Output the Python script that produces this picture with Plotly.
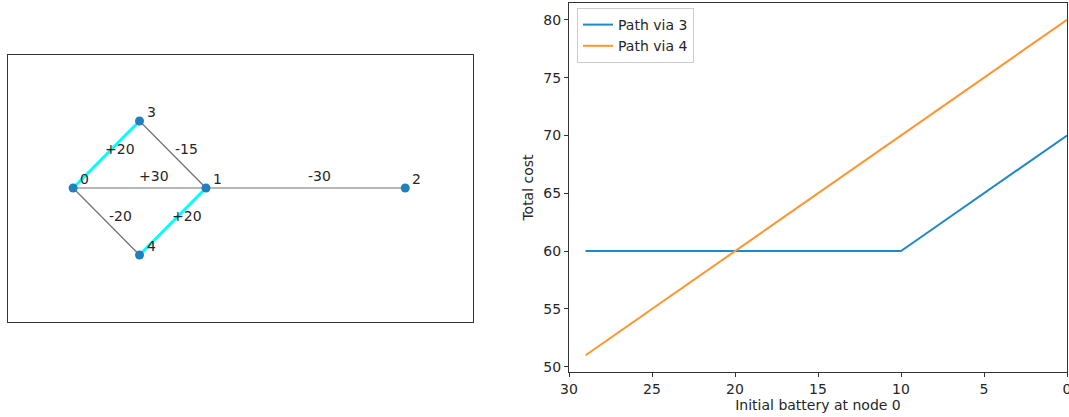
import plotly.graph_objects as go

# ---- network data ----
node_ids = ["0", "1", "2", "3", "4"]
node_x = [0, 2, 5, 1, 1]
node_y = [0, 0, 0, 1, -1]
edges_from = ["0", "3", "0", "0", "4", "1"]
edges_to = ["3", "1", "1", "4", "1", "2"]
edge_labels = ["+20", "-15", "+30", "-20", "+20", "-30"]
highlight_edges = [("0", "3"), ("4", "1")]

# ---- line chart data ----
battery = [29, 28, 27, 26, 25, 24, 23, 22, 21, 20, 19, 18, 17, 16, 15,
           14, 13, 12, 11, 10, 9, 8, 7, 6, 5, 4, 3, 2, 1, 0]
cost_via3 = [60, 60, 60, 60, 60, 60, 60, 60, 60, 60, 60, 60, 60, 60, 60,
             60, 60, 60, 60, 60, 61, 62, 63, 64, 65, 66, 67, 68, 69, 70]
cost_via4 = [51, 52, 53, 54, 55, 56, 57, 58, 59, 60, 61, 62, 63, 64, 65,
             66, 67, 68, 69, 70, 71, 72, 73, 74, 75, 76, 77, 78, 79, 80]
x_ticks = [30, 25, 20, 15, 10, 5, 0]
y_ticks = [50, 55, 60, 65, 70, 75, 80]

BLUE = "#1f88c6"
ORANGE = "#ff9530"
NODE = "#1f80bb"
CYAN = "#00ffff"
TXT = "#262626"
FONT = "DejaVu Sans"
FS = 14

pos = {n: (x, y) for n, x, y in zip(node_ids, node_x, node_y)}

fig = go.Figure()

# gray edges
for a, b in zip(edges_from, edges_to):
    fig.add_trace(go.Scatter(x=[pos[a][0], pos[b][0]], y=[pos[a][1], pos[b][1]],
                             mode="lines", line=dict(color="#707070", width=1.2),
                             xaxis="x", yaxis="y", showlegend=False, hoverinfo="skip"))
# highlighted edges
for a, b in highlight_edges:
    fig.add_trace(go.Scatter(x=[pos[a][0], pos[b][0]], y=[pos[a][1], pos[b][1]],
                             mode="lines", line=dict(color=CYAN, width=3),
                             xaxis="x", yaxis="y", showlegend=False, hoverinfo="skip"))
# nodes
fig.add_trace(go.Scatter(x=node_x, y=node_y, mode="markers",
                         marker=dict(color=NODE, size=9),
                         xaxis="x", yaxis="y", showlegend=False))

annotations = []
for n, x, y in zip(node_ids, node_x, node_y):
    annotations.append(dict(x=x, y=y, xref="x", yref="y", text=n, showarrow=False,
                            xanchor="left", yanchor="bottom", xshift=5, yshift=-1,
                            font=dict(family=FONT, size=FS, color=TXT)))
for a, b, lab in zip(edges_from, edges_to, edge_labels):
    mx = (pos[a][0] + pos[b][0]) / 2
    my = (pos[a][1] + pos[b][1]) / 2
    annotations.append(dict(x=mx, y=my, xref="x", yref="y", text=lab, showarrow=False,
                            xanchor="center", yanchor="middle", xshift=14,
                            yshift=12 if my == 0 else 6,
                            font=dict(family=FONT, size=FS, color=TXT)))

# line chart
fig.add_trace(go.Scatter(x=battery, y=cost_via3, mode="lines", name="Path via 3",
                         line=dict(color=BLUE, width=2), xaxis="x2", yaxis="y2"))
fig.add_trace(go.Scatter(x=battery, y=cost_via4, mode="lines", name="Path via 4",
                         line=dict(color=ORANGE, width=2), xaxis="x2", yaxis="y2"))

W, H = 1069, 417
fig.update_layout(
    width=W, height=H,
    margin=dict(l=0, r=0, t=0, b=0, autoexpand=False),
    paper_bgcolor="white", plot_bgcolor="white",
    font=dict(family=FONT, size=FS, color=TXT),
    annotations=annotations,
    xaxis=dict(domain=[8 / W, 473 / W], range=[-0.98, 6.02], visible=True,
               showticklabels=False, ticks="", showgrid=False, zeroline=False,
               automargin=False,
               showline=True, linecolor="#333", linewidth=1, mirror=True),
    yaxis=dict(domain=[1 - 322 / H, 1 - 55 / H], range=[-2.0, 1.985],
               showticklabels=False, ticks="", showgrid=False, zeroline=False,
               automargin=False,
               showline=True, linecolor="#333", linewidth=1, mirror=True),
    xaxis2=dict(domain=[569 / W, 1067 / W], range=[30, 0], anchor="y2",
                tickvals=x_ticks, ticks="outside", ticklen=4, tickcolor="#333",
                showgrid=False, zeroline=False, showline=True, linecolor="#333",
                linewidth=1, mirror=True, automargin=False, ticklabeloverflow="allow",
                title=dict(text="Initial battery at node 0", standoff=4,
                           font=dict(family=FONT, size=FS, color=TXT)),
                tickfont=dict(family=FONT, size=FS, color=TXT)),
    yaxis2=dict(domain=[1 - 372 / H, 1 - 3 / H], range=[49.55, 81.45], anchor="x2",
                tickvals=y_ticks, ticks="outside", ticklen=4, tickcolor="#333",
                showgrid=False, zeroline=False, showline=True, linecolor="#333",
                linewidth=1, mirror=True, automargin=False,
                title=dict(text="Total cost", standoff=6,
                           font=dict(family=FONT, size=FS, color=TXT)),
                tickfont=dict(family=FONT, size=FS, color=TXT)),
    legend=dict(x=577 / W, y=1 - 8 / H, xanchor="left", yanchor="top",
                bgcolor="rgba(255,255,255,0.8)", bordercolor="#cccccc", borderwidth=1,
                font=dict(family=FONT, size=FS, color=TXT), tracegroupgap=2,
                itemwidth=30),
)

fig.write_html("out.html", config={"displayModeBar": False},
               post_script="document.body.style.margin='0px';document.body.style.overflow='hidden';")
